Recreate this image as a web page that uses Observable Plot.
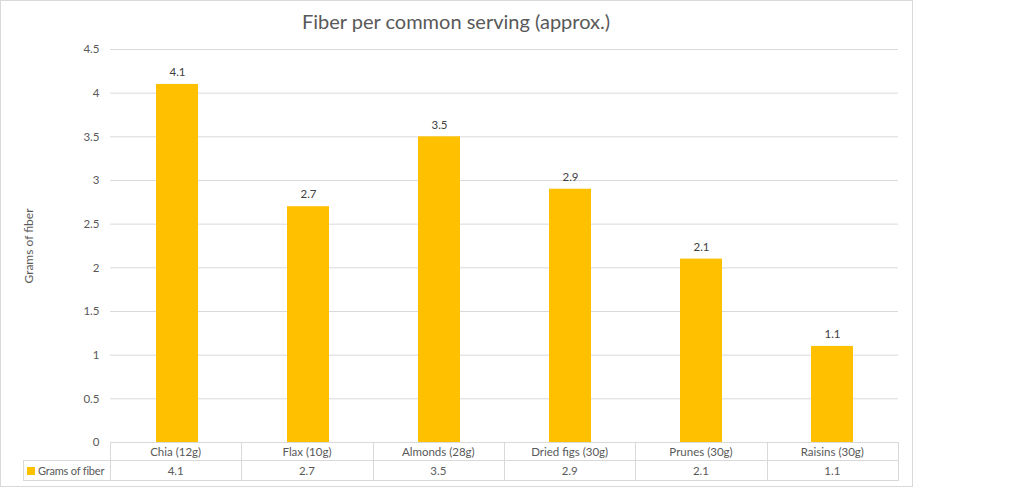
<!DOCTYPE html>
<html>
<head>
<meta charset="utf-8">
<script src="https://cdn.jsdelivr.net/npm/d3@7"></script>
<script src="https://cdn.jsdelivr.net/npm/@observablehq/plot@0.6"></script>
<style>
  html, body { margin: 0; padding: 0; background: #fff; }
  body { font-family: Lato, "Open Sans", sans-serif; }
  #wrap { position: relative; width: 1019px; height: 491px; overflow: hidden; }
  #frame { position: absolute; left: 0; top: 0; width: 913px; height: 487px; border: 1px solid #d9d9d9; box-sizing: border-box; }
  #title { position: absolute; left: 0; width: 912px; top: 9px; text-align: center; font-size: 20px; color: #595959; }
  #ylabel { position: absolute; left: 28px; top: 246px; transform: translate(-50%, -50%) rotate(-90deg); font-size: 12px; color: #595959; white-space: nowrap; }
  #chart { position: absolute; left: 0; top: 0; }
  .cell { position: absolute; box-sizing: border-box; font-size: 11.5px; color: #595959; text-align: center; white-space: nowrap; }
  .hl { position: absolute; height: 1px; background: #d9d9d9; }
  .vl { position: absolute; width: 1px; background: #d9d9d9; }
</style>
</head>
<body>
<div id="wrap">
  <div id="frame"></div>
  <div id="chart"></div>
  <div id="title"></div>
  <div id="ylabel"></div>
  <div id="table"></div>
</div>
<script>
const titleText = "Fiber per common serving (approx.)";
const seriesName = "Grams of fiber";
const yAxisLabel = "Grams of fiber";
const categories = ["Chia (12g)", "Flax (10g)", "Almonds (28g)", "Dried figs (30g)", "Prunes (30g)", "Raisins (30g)"];
const values = [4.1, 2.7, 3.5, 2.9, 2.1, 1.1];
const yTicks = [0, 0.5, 1, 1.5, 2, 2.5, 3, 3.5, 4, 4.5];
const yTickLabels = ["0", "0.5", "1", "1.5", "2", "2.5", "3", "3.5", "4", "4.5"];

const data = categories.map((c, i) => ({name: c, value: values[i]}));
const W = 1019, H = 491;
const mL = 110, mR = 121, mT = 49, mB = 49;
const barColor = "#FFC000";

const chart = Plot.plot({
  width: W, height: H,
  marginLeft: mL, marginRight: mR, marginTop: mT, marginBottom: mB,
  style: {fontFamily: "Lato, 'Open Sans', sans-serif", fontSize: "11.5px", color: "#595959", background: "transparent"},
  x: {type: "band", domain: categories, paddingInner: 0.68, paddingOuter: 0.34, align: 0.5, axis: null},
  y: {domain: [0, 4.5], axis: null},
  marks: [
    Plot.gridY(yTicks, {stroke: "#d9d9d9", strokeOpacity: 1}),
    Plot.axisY(yTicks, {tickSize: 0, tickPadding: 11, label: null, tickFormat: (d) => yTickLabels[yTicks.indexOf(d)], fill: "#595959", fontSize: 11.5}),
    Plot.barY(data, {x: "name", y: "value", fill: barColor}),
    Plot.text(data, {x: "name", y: "value", text: d => d.value.toFixed(1), dy: -12, fill: "#404040", fontSize: 11.5})
  ]
});
document.getElementById("chart").appendChild(chart);
document.getElementById("title").textContent = titleText;
document.getElementById("ylabel").textContent = yAxisLabel;

// data table below the plot
const left = mL, right = W - mR;
const top0 = H - mB, r1 = top0 + 18, r2 = r1 + 20;
const legendLeft = 23;
const t = document.getElementById("table");
function add(cls, style, html) {
  const d = document.createElement("div");
  d.className = cls;
  Object.assign(d.style, style);
  if (html !== undefined) d.innerHTML = html;
  t.appendChild(d);
}
add("hl", {left: left + "px", top: top0 + "px", width: (right - left + 1) + "px"});
add("hl", {left: legendLeft + "px", top: r1 + "px", width: (right - legendLeft + 1) + "px"});
add("hl", {left: legendLeft + "px", top: r2 + "px", width: (right - legendLeft + 1) + "px"});
add("vl", {left: legendLeft + "px", top: r1 + "px", height: (r2 - r1 + 1) + "px"});
for (let i = 0; i <= categories.length; i++) {
  const x = Math.round(left + i * (right - left) / categories.length);
  add("vl", {left: x + "px", top: top0 + "px", height: (r2 - top0 + 1) + "px"});
}
categories.forEach((c, i) => {
  const x0 = left + i * (right - left) / categories.length;
  const w = (right - left) / categories.length;
  add("cell", {left: x0 + "px", top: (top0 + 1) + "px", width: w + "px", lineHeight: "17px"}, c);
  add("cell", {left: x0 + "px", top: (r1 + 1) + "px", width: w + "px", lineHeight: "19px"}, values[i].toFixed(1));
});
add("cell", {left: (legendLeft + 4) + "px", top: (r1 + 1) + "px", textAlign: "left", lineHeight: "19px", fontSize: "11px", letterSpacing: "-0.2px"},
  `<span style="display:inline-block;width:8px;height:8px;background:${barColor};margin-right:3px;vertical-align:0px"></span>${seriesName}`);
</script>
</body>
</html>
